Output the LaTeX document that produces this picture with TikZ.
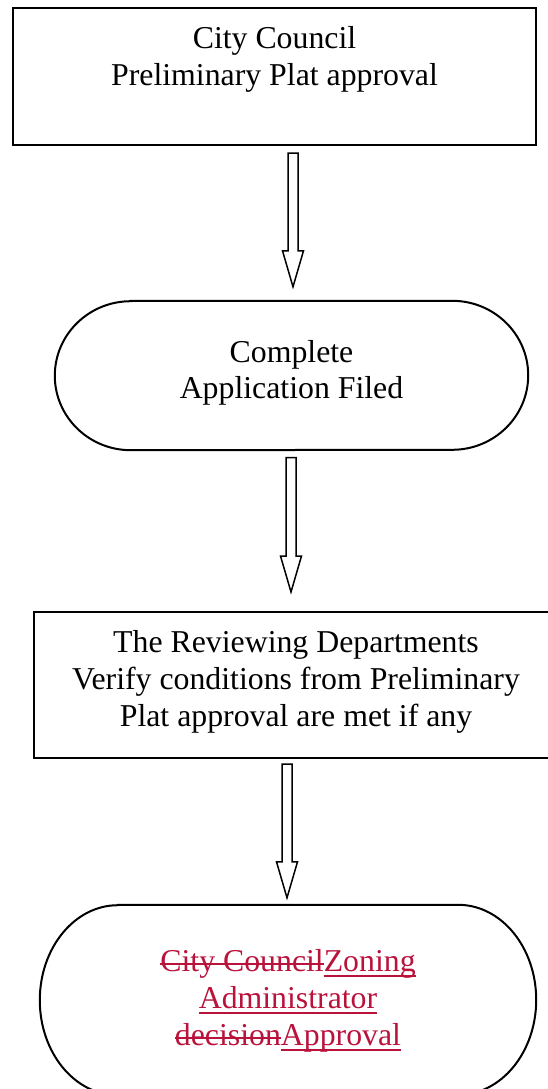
\documentclass[tikz,border=0pt]{standalone}
\usepackage{fontspec}
\setmainfont{Liberation Serif}
\usetikzlibrary{calc}

\definecolor{tracked}{RGB}{185,18,59}
\newcommand\bodyfont{\fontsize{31.8}{37}\selectfont}

% deleted and inserted text marks drawn with rules
\newsavebox\markbox
\newcommand\struck[1]{\sbox\markbox{#1}\rlap{\usebox\markbox}\rule[6pt]{\wd\markbox}{1.8pt}}
\newcommand\inserted[1]{\sbox\markbox{#1}\rlap{\usebox\markbox}\rule[-6pt]{\wd\markbox}{1.8pt}}

% hollow block arrow from a top point down to its tip
\newcommand\hollowarrow[2]{%
  \draw[hollow] let \p1=(#1), \p2=(#2) in
    (\x1-5pt,\y1) -- (\x1+5pt,\y1) -- (\x1+5pt,\y2+36pt)
    -- (\x1+10.5pt,\y2+36pt) -- (\x2,\y2) -- (\x1-10.5pt,\y2+36pt)
    -- (\x1-5pt,\y2+36pt) -- cycle;}

% terminator outline with elliptic ends, drawn round an empty node
\newcommand\terminator[3]{% node, x radius, y radius
  \draw[outline] ([xshift=#2]#1.north west) -- ([xshift=-#2]#1.north east)
    arc[start angle=90,end angle=-90,x radius=#2,y radius=#3]
    -- ([xshift=#2]#1.south west)
    arc[start angle=270,end angle=90,x radius=#2,y radius=#3] -- cycle;}

\tikzset{
  x=1pt, y=1pt,
  frame/.style={draw, line width=2pt, inner sep=0pt},
  shell/.style={inner sep=0pt},
  outline/.style={line width=2pt},
  lbl/.style={anchor=base, inner sep=0pt, font=\bodyfont},
  hollow/.style={draw, line width=1.5pt, fill=white, line join=miter},
}

\begin{document}
\begin{tikzpicture}
\useasboundingbox (0,0) rectangle (548,-1089);
\clip (0,0) rectangle (548,-1089);

% step 1: council approval
\node[frame, minimum width=523pt, minimum height=137pt] (council) at (274.5,-76.5) {};
\node[lbl] (council1) at (274.5,-49) {City Council};
\node[lbl] (council2) at (274.5,-86) {Preliminary Plat approval};

% step 2: application filed
\node[shell, minimum width=473pt, minimum height=149pt] (filed) at (291.5,-375.5) {};
\terminator{filed}{76pt}{74.5pt}
\node[lbl] (filed1) at (291.5,-362) {Complete};
\node[lbl] (filed2) at (291.5,-398) {Application Filed};

% step 3: departmental review
\node[frame, minimum width=524pt, minimum height=146pt] (review) at (296,-685) {};
\node[lbl] (review1) at (296,-652) {The Reviewing Departments};
\node[lbl] (review2) at (296,-689) {Verify conditions from Preliminary};
\node[lbl] (review3) at (296,-726) {Plat approval are met if any};

% step 4: decision
\node[shell, minimum width=496pt, minimum height=190pt] (decision) at (288,-1000) {};
\terminator{decision}{78pt}{95pt}
\begin{scope}[text=tracked]
\node[lbl] (decision1) at (288,-971) {\struck{City Council}\inserted{Zoning}};
\node[lbl] (decision2) at (288,-1008) {\inserted{Administrator}};
\node[lbl] (decision3) at (288,-1045) {\struck{decision}\inserted{Approval}};
\end{scope}

% connectors between the steps
\coordinate (a1top) at ($(council.south)+(18.5,-7)$);
\coordinate (a1tip) at ($(filed.north)+(1.5,14)$);
\hollowarrow{a1top}{a1tip}
\coordinate (a2top) at ($(filed.south)+(-0.5,-7.5)$);
\coordinate (a2tip) at ($(review.north)+(-5,19)$);
\hollowarrow{a2top}{a2tip}
\coordinate (a3top) at ($(review.south)+(-9,-5)$);
\coordinate (a3tip) at ($(decision.north)+(-1,7)$);
\hollowarrow{a3top}{a3tip}
\end{tikzpicture}
\end{document}
